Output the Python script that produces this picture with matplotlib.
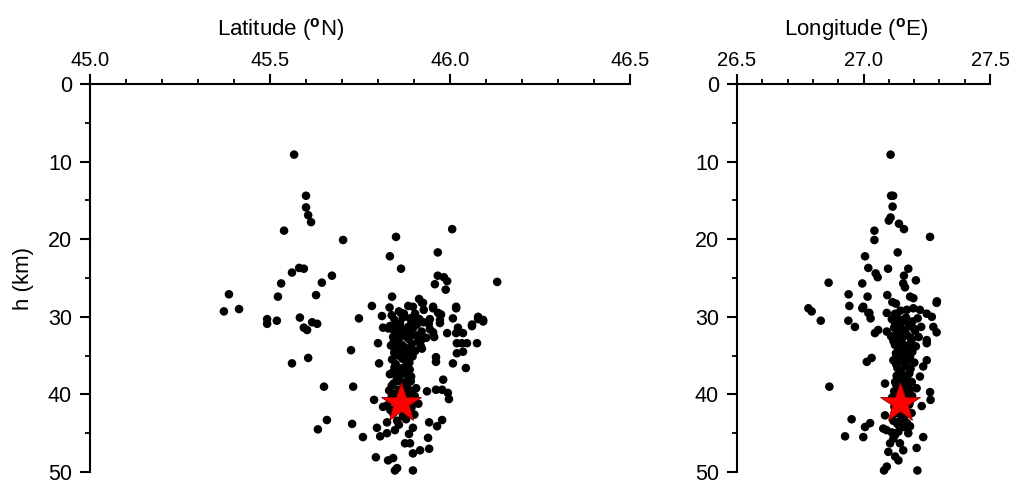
import numpy as np
import matplotlib
matplotlib.use("Agg")
import matplotlib.pyplot as plt
from matplotlib.ticker import MultipleLocator

plt.rcParams['font.family'] = ['Liberation Sans', 'DejaVu Sans']
plt.rcParams['mathtext.fontset'] = 'custom'
plt.rcParams['mathtext.rm'] = 'Liberation Sans'
plt.rcParams['mathtext.bf'] = 'Liberation Sans:bold'

# hypocentres, latitude section (lat in deg N, depth in km)
lat_scatter = [
    (45.567, 9.1), (45.600, 14.4), (45.600, 15.9), (45.606, 16.9), (45.614, 17.8),
    (45.539, 18.9), (45.703, 20.1), (45.850, 19.7), (46.006, 18.7), (45.833, 22.2),
    (45.966, 21.7), (45.864, 23.8), (45.581, 23.7), (45.594, 23.8), (45.561, 24.3),
    (45.531, 25.7), (45.644, 25.6), (45.672, 24.7), (45.966, 24.7), (45.983, 24.9),
    (45.992, 25.4), (45.958, 25.8), (45.988, 26.5), (46.131, 25.5), (45.386, 27.1),
    (45.522, 27.4), (45.628, 27.2), (45.839, 27.4), (45.372, 29.3), (45.414, 29.0),
    (45.783, 28.6), (45.747, 30.2), (45.492, 30.3), (45.492, 30.9), (45.519, 30.5),
    (45.583, 30.1), (45.594, 31.4), (45.603, 31.7), (45.617, 30.7), (45.631, 30.9),
    (45.811, 29.9), (45.800, 33.4), (45.803, 36.0), (45.794, 48.1), (45.828, 48.5),
    (45.842, 48.2), (45.853, 49.5), (45.847, 49.8), (45.897, 49.8), (46.017, 28.7),
    (46.078, 30.0), (46.092, 30.4), (46.061, 31.2), (46.044, 36.6), (46.075, 33.4),
    (46.019, 33.4), (46.019, 34.7), (46.008, 36.0), (45.961, 35.2), (45.961, 35.8),
    (45.981, 38.1), (45.994, 39.8), (45.997, 40.6), (45.961, 39.4), (45.978, 39.4),
    (45.936, 39.6), (45.906, 39.2), (45.942, 43.6), (45.964, 44.1), (45.978, 43.3),
    (45.939, 45.6), (45.942, 47.0), (45.917, 47.2), (45.897, 47.6), (45.875, 46.3),
    (45.889, 46.3), (45.886, 45.1), (45.897, 44.3), (45.858, 43.9), (45.847, 44.6),
    (45.825, 45.0), (45.806, 45.4), (45.797, 44.3), (45.825, 43.6), (45.789, 40.7),
    (45.814, 41.6), (45.922, 32.9), (45.922, 34.1), (45.953, 32.0), (45.956, 32.6),
    (45.992, 32.1), (46.017, 32.1), (46.036, 32.1), (46.033, 33.4), (46.047, 33.4),
    (46.036, 34.5), (45.967, 29.5), (45.972, 30.4), (46.008, 30.2), (45.953, 28.7),
    (45.897, 28.7), (45.922, 28.2), (45.725, 34.3), (45.561, 36.0), (45.606, 35.3),
    (45.650, 39.0), (45.731, 39.0), (45.658, 43.3), (45.633, 44.5), (45.728, 43.8),
    (45.758, 45.5), (45.864, 29.5), (45.914, 27.7), (45.925, 28.2), (45.953, 28.9),
    (45.975, 29.7), (46.017, 28.9), (46.078, 30.3), (46.092, 30.6), (46.061, 31.0),
    (46.022, 31.4), (45.972, 30.8), (45.944, 30.3), (45.889, 30.2), (45.833, 31.2),
    (45.814, 31.4),
]
lat_cluster = [
    (45.832, 28.8), (45.858, 29.3), (45.884, 28.6), (45.903, 29.6), (45.927, 29.1),
    (45.846, 30.4), (45.869, 30.1), (45.893, 30.8), (45.915, 30.3), (45.941, 30.9),
    (45.829, 31.5), (45.853, 31.2), (45.877, 31.8), (45.898, 31.4), (45.921, 31.9),
    (45.842, 32.6), (45.864, 32.3), (45.886, 32.9), (45.905, 32.4), (45.934, 32.7),
    (45.836, 33.7), (45.851, 33.3), (45.873, 33.9), (45.894, 33.5),
    (45.845, 34.6), (45.861, 34.2), (45.882, 34.8), (45.903, 34.4),
    (45.839, 35.5), (45.868, 35.4), (45.887, 35.9),
    (45.846, 36.5), (45.857, 36.9), (45.879, 36.3),
    (45.833, 37.4), (45.852, 37.8), (45.874, 37.2), (45.892, 37.7),
    (45.843, 38.6), (45.862, 38.3), (45.881, 38.9),
    (45.831, 39.5), (45.849, 39.9), (45.871, 39.2), (45.893, 39.6),
    (45.838, 40.3), (45.858, 40.8), (45.884, 40.5), (45.902, 40.2),
    (45.826, 41.4), (45.847, 41.9), (45.893, 41.7), (45.912, 41.2),
    (45.842, 42.4), (45.869, 42.8), (45.901, 42.6),
    (45.853, 43.4), (45.878, 43.2),
    (45.838, 29.8), (45.872, 29.6), (45.896, 30.1), (45.861, 30.9), (45.884, 31.3),
    (45.908, 31.0), (45.846, 31.9), (45.868, 31.6), (45.892, 32.3), (45.857, 32.9),
    (45.879, 32.6), (45.912, 33.1), (45.844, 33.2), (45.866, 33.6), (45.887, 34.1),
    (45.852, 34.0), (45.874, 34.5), (45.896, 35.1), (45.857, 35.0), (45.878, 35.6),
    (45.849, 36.1), (45.868, 36.6), (45.888, 36.8), (45.842, 37.1), (45.861, 37.5),
    (45.882, 37.6), (45.853, 38.2), (45.872, 38.5), (45.891, 38.3), (45.838, 38.9),
    (45.858, 39.4), (45.879, 39.8), (45.866, 40.2), (45.845, 40.6), (45.892, 40.9),
    (45.834, 42.0), (45.880, 41.9), (45.918, 33.7), (45.926, 30.7), (45.944, 31.6),
]

# hypocentres, longitude section (lon in deg E, depth in km)
lon_scatter = [
    (27.107, 9.1), (27.109, 14.4), (27.117, 14.4), (27.115, 15.8), (27.107, 17.2),
    (27.100, 17.6), (27.140, 18.0), (27.160, 18.7), (27.043, 18.9), (27.043, 20.1),
    (27.263, 19.7), (27.135, 21.7), (27.006, 22.2), (27.019, 23.7), (27.097, 23.8),
    (27.177, 23.8), (27.048, 24.4), (27.056, 24.9), (27.160, 24.7), (27.157, 25.7),
    (27.164, 26.2), (27.207, 25.3), (26.862, 25.6), (26.995, 25.7), (26.941, 27.1),
    (27.016, 27.4), (27.094, 27.2), (27.184, 27.4), (27.197, 27.6), (27.290, 28.0),
    (27.114, 28.1), (27.128, 28.3), (26.944, 28.6), (26.995, 28.9), (26.782, 28.9),
    (26.795, 29.3), (26.831, 30.5), (26.940, 30.5), (27.023, 29.5), (27.028, 30.2),
    (26.966, 31.3), (27.045, 32.1), (27.058, 31.7), (27.092, 31.9), (27.013, 35.8),
    (27.032, 35.3), (26.865, 39.0), (26.953, 43.2), (27.006, 44.2), (27.026, 43.7),
    (26.999, 45.5), (26.927, 45.4), (27.078, 44.4), (27.091, 44.6), (27.125, 45.2),
    (27.138, 44.8), (27.118, 45.7), (27.177, 45.0), (27.184, 44.1), (27.105, 46.3),
    (27.144, 46.3), (27.157, 47.2), (27.098, 47.4), (27.125, 48.0), (27.138, 48.5),
    (27.210, 46.9), (27.236, 45.5), (27.092, 49.3), (27.081, 49.8), (27.213, 49.8),
    (27.263, 39.7), (27.265, 40.7), (27.230, 41.5), (27.085, 38.6), (27.125, 38.4),
    (27.191, 38.4), (27.210, 39.2), (27.223, 37.7), (27.085, 42.7), (27.289, 28.2),
    (27.289, 32.0), (27.276, 31.3), (27.250, 33.4), (27.250, 35.6), (27.236, 36.4),
    (27.250, 33.0), (26.999, 28.7), (27.019, 29.5), (27.092, 29.5), (27.125, 29.6),
    (27.146, 29.2), (27.171, 29.1), (27.197, 28.9), (27.223, 29.1), (27.250, 29.6),
    (27.270, 30.0),
]
lon_cluster = [
    (27.112, 30.3), (27.131, 29.8), (27.154, 30.5), (27.168, 30.1), (27.193, 30.6), (27.214, 30.2),
    (27.121, 31.4), (27.143, 31.1), (27.159, 31.7), (27.182, 31.2), (27.204, 31.8), (27.228, 31.3),
    (27.109, 32.5), (27.134, 32.2), (27.151, 32.8), (27.173, 32.4), (27.191, 32.9), (27.218, 32.6),
    (27.124, 33.6), (27.139, 33.3), (27.163, 33.9), (27.184, 33.5), (27.207, 33.8),
    (27.128, 34.7), (27.152, 34.4), (27.171, 34.9), (27.193, 34.5),
    (27.118, 35.6), (27.143, 35.3), (27.161, 35.8), (27.179, 35.4), (27.201, 35.9),
    (27.134, 36.6), (27.148, 36.9), (27.172, 36.4),
    (27.141, 37.5), (27.163, 37.8), (27.181, 37.3),
    (27.129, 38.7), (27.152, 38.3), (27.168, 38.9),
    (27.121, 39.6), (27.138, 39.2), (27.159, 39.8), (27.183, 39.4),
    (27.113, 40.4), (27.132, 40.8), (27.171, 40.5), (27.192, 40.2),
    (27.122, 41.6), (27.181, 41.3),
    (27.128, 42.4), (27.162, 42.8),
    (27.118, 43.4), (27.149, 43.2), (27.172, 43.7),
    (27.124, 30.8), (27.146, 30.4), (27.177, 30.9), (27.198, 31.5), (27.131, 31.8),
    (27.166, 32.1), (27.186, 32.7), (27.146, 32.9), (27.118, 33.1), (27.155, 33.5),
    (27.176, 34.1), (27.138, 34.2), (27.162, 34.6), (27.184, 35.1), (27.151, 35.7),
    (27.129, 36.1), (27.166, 36.2), (27.186, 36.7), (27.151, 37.3), (27.131, 37.6),
    (27.172, 37.9), (27.142, 38.8), (27.161, 38.6), (27.176, 39.1), (27.149, 39.7),
    (27.128, 40.2), (27.151, 40.6), (27.183, 40.9), (27.136, 41.7), (27.166, 41.9),
    (27.145, 42.3), (27.134, 43.8), (27.160, 44.2), (27.112, 44.9), (27.190, 42.4),
]

# main shock
main_lat, main_lon, main_depth = 45.864, 27.144, 41.1

lat_ticks = [45.0, 45.5, 46.0, 46.5]
lon_ticks = [26.5, 27.0, 27.5]
depth_ticks = [0, 10, 20, 30, 40, 50]


def style_axis(ax, xlim, xticks, xlabel, label_x):
    ax.set_xlim(*xlim)
    ax.set_ylim(50, 0)
    ax.xaxis.tick_top()
    ax.xaxis.set_label_position('top')
    ax.set_xticks(xticks)
    ax.set_xticklabels(['%.1f' % t for t in xticks])
    ax.xaxis.set_minor_locator(MultipleLocator(0.1))
    ax.set_yticks(depth_ticks)
    ax.yaxis.set_minor_locator(MultipleLocator(5))
    ax.set_xlabel(xlabel, fontsize=16)
    ax.xaxis.set_label_coords(label_x, 1.125)
    for s in ['right', 'bottom']:
        ax.spines[s].set_visible(False)
    for s in ['left', 'top']:
        ax.spines[s].set_linewidth(1.5)
    ax.tick_params(which='major', direction='out', length=7, width=1.5)
    ax.tick_params(which='minor', direction='out', length=3.5, width=1.3)
    ax.tick_params(axis='x', which='major', labelsize=14.5, pad=3)
    ax.tick_params(axis='y', which='major', labelsize=15.5, pad=6)


fig = plt.figure(figsize=(10.18, 4.82), dpi=100)
ax1 = fig.add_axes([0.0884, 0.0207, 0.5305, 0.805])
ax2 = fig.add_axes([0.724, 0.0207, 0.2485, 0.805])

for ax, pts in [(ax1, lat_scatter + lat_cluster), (ax2, lon_scatter + lon_cluster)]:
    x = np.array([p[0] for p in pts])
    y = np.array([p[1] for p in pts])
    ax.scatter(x, y, s=38, c='black', edgecolors='none', zorder=2, clip_on=False)

ax1.plot(main_lat, main_depth, marker='*', ms=30, mfc='red', mec='#8b0000', mew=0.6, zorder=3)
ax2.plot(main_lon, main_depth, marker='*', ms=30, mfc='red', mec='#8b0000', mew=0.6, zorder=3)

style_axis(ax1, (45.0, 46.5), lat_ticks, r'Latitude ($^{\mathbf{o}}$N)', 0.352)
style_axis(ax2, (26.5, 27.5), lon_ticks, r'Longitude ($^{\mathbf{o}}$E)', 0.47)
ax1.set_ylabel('h (km)', fontsize=16, labelpad=10)

fig.savefig('out.png', dpi=100)
